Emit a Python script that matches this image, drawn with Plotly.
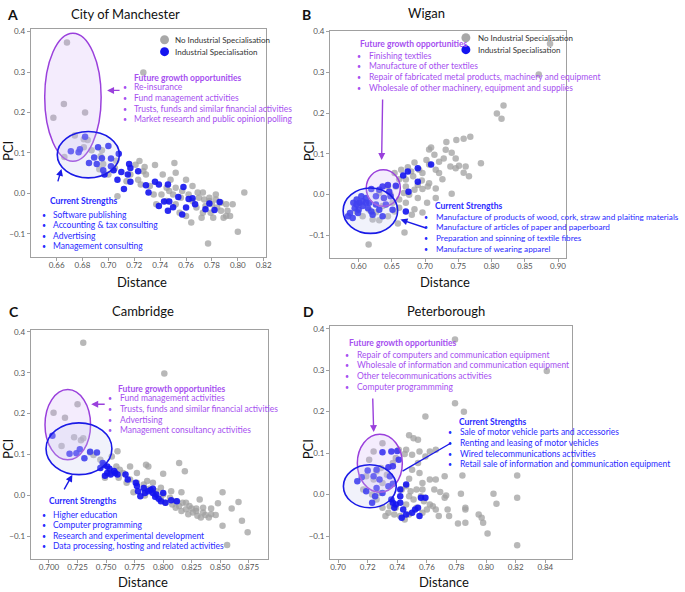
import plotly.graph_objects as go

# ---------------- data (Distance, PCI) ----------------
A_gray = [(0.668,0.373),(0.727,0.299),(0.6656,0.221),(0.682,0.200),(0.6575,0.187),(0.674,0.143),(0.681,0.134),
          (0.684,0.132),(0.681,0.114),(0.687,0.107),(0.695,0.107),(0.694,0.092),(0.666,0.090),(0.696,0.073),
          (0.693,0.060),(0.706,0.081),(0.705,0.063),(0.700,0.047),(0.707,-0.007),(0.721,0.071),(0.724,0.080),
          (0.727,0.055),(0.729,0.047),(0.723,0.034),(0.736,0.070),(0.751,0.075),(0.742,0.047),(0.732,0.018),
          (0.735,-0.003),(0.748,0.034),(0.752,0.014),(0.757,0.006),(0.750,-0.003),(0.760,0.034),(0.762,-0.003),
          (0.765,-0.019),(0.769,0.002),(0.773,0.002),(0.774,-0.015),(0.778,-0.019),(0.780,-0.027),(0.783,-0.015),
          (0.784,-0.035),(0.787,-0.043),(0.792,-0.043),(0.794,-0.056),(0.791,-0.056),(0.805,0.002),(0.800,-0.095),
          (0.777,-0.124),(0.772,-0.060),(0.764,-0.072),(0.755,-0.048),(0.752,-0.027),(0.745,-0.019),(0.741,-0.003),
          (0.737,-0.027),(0.768,-0.035),(0.779,-0.048),(0.783,-0.003),(0.787,-0.023),(0.778,-0.011),(0.770,-0.011),
          (0.745,0.014),(0.725,0.022),(0.717,0.047),(0.714,0.030),(0.791,-0.027),(0.796,-0.027),(0.760,-0.056),
          (0.781,-0.060),(0.756,-0.011),(0.765,0.018),(0.728,0.065),(0.752,0.051),(0.747,0.006),(0.775,-0.031),
          (0.773,-0.048),(0.789,-0.060)]
A_blue = [(0.682,0.140),(0.671,0.104),(0.677,0.102),(0.678,0.109),(0.692,0.114),(0.700,0.117),(0.689,0.089),
          (0.695,0.087),(0.702,0.086),(0.691,0.073),(0.685,0.075),(0.702,0.067),(0.696,0.057),(0.708,0.098),
          (0.716,0.073),(0.710,0.053),(0.715,0.047),(0.707,0.034),(0.712,0.011),(0.717,0.029),(0.729,0.020),
          (0.736,0.029),(0.731,0.002),(0.739,0.022),(0.746,0.022),(0.743,-0.020),(0.747,-0.020),(0.750,-0.034),
          (0.754,-0.009),(0.758,0.016),(0.757,-0.052),(0.760,-0.035),(0.765,-0.012),(0.767,-0.027),(0.775,-0.039),
          (0.778,-0.025),(0.786,-0.021),(0.782,-0.041),(0.739,-0.031),(0.746,-0.043),(0.762,-0.014),(0.717,0.063),
          (0.697,0.047),(0.704,0.057),(0.723,0.055)]

B_gray = [(0.888,0.370),(0.871,0.295),(0.818,0.219),(0.808,0.199),(0.815,0.186),(0.768,0.142),(0.758,0.137),
          (0.747,0.134),(0.732,0.129),(0.709,0.116),(0.706,0.111),(0.714,0.098),(0.702,0.085),(0.731,0.110),
          (0.740,0.103),(0.728,0.089),(0.746,0.089),(0.784,0.077),(0.761,0.069),(0.751,0.071),(0.766,0.045),
          (0.758,0.054),(0.738,0.069),(0.721,0.053),(0.696,0.053),(0.684,0.079),(0.674,0.067),(0.664,0.061),
          (0.682,0.045),(0.695,0.035),(0.706,0.028),(0.726,0.038),(0.704,0.020),(0.696,0.014),(0.684,0.012),
          (0.671,0.020),(0.661,0.038),(0.676,0.000),(0.689,-0.008),(0.703,-0.020),(0.716,-0.008),(0.740,0.002),
          (0.671,-0.020),(0.684,-0.036),(0.696,-0.044),(0.680,-0.049),(0.659,-0.071),(0.669,-0.093),(0.615,-0.122),
          (0.654,-0.041),(0.644,-0.053),(0.631,-0.063),(0.621,-0.061),(0.606,-0.053),(0.597,-0.041),(0.644,0.020),
          (0.631,0.004),(0.638,-0.008),(0.648,0.000),(0.656,0.020),(0.654,0.053),(0.661,-0.012),(0.668,0.004),
          (0.689,0.024),(0.679,0.057),(0.706,0.074),(0.691,0.061),(0.716,0.061),(0.746,0.065),(0.721,0.081),
          (0.636,-0.028),(0.616,-0.037),(0.626,-0.043),(0.601,-0.024),(0.661,-0.032),(0.671,0.037),(0.651,-0.020),
          (0.716,0.015)]
B_blue = [(0.689,0.065),(0.674,0.057),(0.667,0.047),(0.709,0.074),(0.689,0.032),(0.675,0.007),(0.671,-0.041),
          (0.636,0.020),(0.644,0.024),(0.631,0.012),(0.619,0.014),(0.626,-0.004),(0.638,-0.008),(0.648,-0.004),
          (0.651,-0.037),(0.641,-0.024),(0.592,-0.020),(0.597,-0.012),(0.601,-0.020),(0.606,-0.016),(0.611,-0.020),
          (0.594,-0.033),(0.600,-0.037),(0.606,-0.028),(0.614,-0.033),(0.587,-0.045),(0.584,-0.053),(0.591,-0.057),
          (0.599,-0.045),(0.619,-0.041),(0.621,-0.049),(0.631,-0.037),(0.611,-0.008),(0.604,-0.004),(0.636,-0.053),
          (0.626,-0.024),(0.616,-0.020),(0.597,-0.024),(0.656,0.022),(0.646,0.007)]

C_gray = [(0.730,0.373),(0.801,0.298),(0.725,0.223),(0.704,0.202),(0.714,0.190),(0.722,0.142),(0.728,0.135),
          (0.730,0.140),(0.711,0.121),(0.736,0.105),(0.739,0.099),(0.745,0.087),(0.760,0.108),(0.755,0.095),
          (0.759,0.071),(0.753,0.055),(0.749,0.043),(0.761,0.043),(0.785,0.075),(0.787,0.071),(0.800,0.053),
          (0.777,0.055),(0.814,0.079),(0.819,0.059),(0.852,0.008),(0.866,-0.016),(0.860,-0.032),(0.848,-0.019),
          (0.842,-0.032),(0.869,-0.062),(0.874,-0.090),(0.856,-0.121),(0.852,-0.074),(0.835,-0.042),(0.829,-0.032),
          (0.823,-0.026),(0.817,-0.018),(0.811,-0.014),(0.806,-0.006),(0.800,0.002),(0.794,0.010),(0.788,0.016),
          (0.783,0.027),(0.777,0.031),(0.771,0.039),(0.768,0.031),(0.784,0.014),(0.791,0.031),(0.792,0.006),
          (0.798,-0.010),(0.802,-0.018),(0.808,-0.022),(0.814,-0.026),(0.820,-0.034),(0.826,-0.042),(0.830,-0.050),
          (0.833,-0.054),(0.837,-0.048),(0.842,-0.046),(0.829,-0.038),(0.820,-0.018),(0.816,-0.038),(0.811,-0.030),
          (0.822,-0.046),(0.825,-0.032),(0.835,-0.030),(0.840,-0.054),(0.846,-0.048),(0.832,-0.010),(0.816,0.008),
          (0.807,0.010),(0.784,0.000),(0.774,0.008),(0.786,0.035),(0.798,0.019),(0.765,0.055),(0.762,0.063),
          (0.771,0.071)]
C_blue = [(0.703,0.146),(0.724,0.103),(0.718,0.102),(0.727,0.113),(0.731,0.091),(0.736,0.107),(0.742,0.105),
          (0.747,0.079),(0.745,0.067),(0.751,0.071),(0.753,0.065),(0.751,0.055),(0.749,0.048),(0.754,0.051),
          (0.758,0.055),(0.760,0.051),(0.767,0.051),(0.769,0.039),(0.776,0.031),(0.777,0.023),(0.778,0.010),
          (0.783,0.018),(0.784,0.006),(0.787,0.010),(0.789,0.013),(0.791,0.006),(0.794,0.002),(0.791,0.016),
          (0.793,-0.003),(0.800,0.006),(0.802,-0.018),(0.798,-0.014),(0.796,-0.008),(0.807,-0.012),(0.812,-0.014),
          (0.780,-0.002),(0.757,0.060),(0.748,0.075)]

D_gray = [(0.779,0.374),(0.841,0.298),(0.779,0.220),(0.785,0.200),(0.759,0.188),(0.748,0.143),(0.751,0.136),
          (0.754,0.132),(0.766,0.108),(0.746,0.108),(0.745,0.098),(0.750,0.096),(0.755,0.104),(0.759,0.092),
          (0.762,0.104),(0.754,0.076),(0.750,0.060),(0.755,0.052),(0.748,0.038),(0.757,0.028),(0.762,0.036),
          (0.766,0.036),(0.784,0.046),(0.821,0.046),(0.805,0.002),(0.807,-0.022),(0.821,-0.008),(0.783,0.002),
          (0.773,-0.002),(0.772,-0.008),(0.786,-0.032),(0.786,-0.036),(0.781,-0.070),(0.786,-0.068),(0.795,-0.048),
          (0.797,-0.056),(0.798,-0.068),(0.801,-0.094),(0.821,-0.122),(0.775,-0.052),(0.774,-0.036),(0.768,-0.052),
          (0.766,-0.036),(0.762,-0.024),(0.760,-0.036),(0.757,-0.044),(0.753,-0.032),(0.748,-0.048),(0.745,-0.060),
          (0.742,-0.052),(0.738,-0.048),(0.734,-0.044),(0.732,-0.052),(0.730,-0.032),(0.735,-0.028),(0.739,-0.032),
          (0.746,-0.024),(0.751,-0.012),(0.756,-0.004),(0.753,0.012),(0.749,0.008),(0.746,0.020),(0.743,0.012),
          (0.748,-0.004),(0.758,-0.016),(0.764,-0.028),(0.726,-0.012),(0.723,0.000),(0.728,0.004),(0.730,0.028),
          (0.724,0.036),(0.719,0.044),(0.726,0.056),(0.733,0.048),(0.729,0.064),(0.737,0.076),(0.739,0.088),
          (0.741,0.108),(0.724,0.104),(0.730,0.124),(0.721,0.084),(0.717,0.012),(0.772,0.044),(0.765,0.012),
          (0.769,0.006),(0.757,0.012)]
D_blue = [(0.730,0.102),(0.736,0.104),(0.740,0.105),(0.741,0.084),(0.737,0.068),(0.734,0.066),(0.726,0.060),
          (0.720,0.058),(0.716,0.042),(0.713,0.032),(0.724,0.044),(0.728,0.036),(0.735,0.044),(0.737,0.026),
          (0.734,0.020),(0.726,0.016),(0.719,0.008),(0.723,-0.020),(0.725,-0.004),(0.730,0.004),(0.742,0.012),
          (0.746,0.024),(0.742,-0.004),(0.736,-0.012),(0.737,-0.020),(0.739,-0.024),(0.742,-0.020),(0.738,-0.032),
          (0.744,-0.036),(0.746,-0.048),(0.750,-0.044),(0.755,-0.052),(0.743,-0.056),(0.756,-0.008),(0.759,-0.008),
          (0.752,-0.036),(0.754,-0.032)]

titles = ["City of Manchester", "Wigan", "Cambridge", "Peterborough"]
letters = ["A", "B", "C", "D"]
legend_labels = ["No Industrial Specialisation", "Industrial Specialisation"]

A_growth = ["Re-insurance", "Fund management activities",
            "Trusts, funds and similar financial activities", "Market research and public opinion polling"]
A_strength = ["Software publishing", "Accounting & tax consulting", "Advertising", "Management consulting"]
B_growth = ["Finishing textiles", "Manufacture of other textiles",
            "Repair of fabricated metal products, machinery and equipment",
            "Wholesale of other machinery, equipment and supplies"]
B_strength = ["Manufacture of products of wood, cork, straw and plaiting materials",
              "Manufacture of articles of paper and paperboard",
              "Preparation and spinning of textile fibres", "Manufacture of wearing apparel"]
C_growth = ["Fund management activities", "Trusts, funds and similar financial activities",
            "Advertising", "Management consultancy activities"]
C_strength = ["Higher education", "Computer programming", "Research and experimental development",
              "Data processing, hosting and related activities"]
D_growth = ["Repair of computers and communication equipment",
            "Wholesale of information and communication equipment",
            "Other telecommunications activities", "Computer programmming"]
D_strength = ["Sale of motor vehicle parts and accessories", "Renting and leasing of motor vehicles",
              "Wired telecommunications activities", "Retail sale of information and communication equipment"]

# ---------------- styling ----------------
W, H = 685, 592
FONT = "Lato"
GRAY = "rgba(160,160,160,0.75)"
BLUE = "rgba(20,20,240,0.9)"
PURPLE = "#a64ff0"
PURPLE_LINE = "#9a40dc"
BLUE_TXT = "#2a2aff"
BLUE_LINE = "#1a1ae6"

def px(x):
    return x / W

def py(y):
    return 1 - y / H

fig = go.Figure()

panels = [
    dict(xa="x", ya="y", gray=A_gray, blue=A_blue),
    dict(xa="x2", ya="y2", gray=B_gray, blue=B_blue),
    dict(xa="x3", ya="y3", gray=C_gray, blue=C_blue),
    dict(xa="x4", ya="y4", gray=D_gray, blue=D_blue),
]
for p in panels:
    fig.add_trace(go.Scatter(x=[a for a, b in p["gray"]], y=[b for a, b in p["gray"]], mode="markers",
                             marker=dict(size=6.5, color=GRAY), xaxis=p["xa"], yaxis=p["ya"],
                             showlegend=False, hoverinfo="skip"))
    fig.add_trace(go.Scatter(x=[a for a, b in p["blue"]], y=[b for a, b in p["blue"]], mode="markers",
                             marker=dict(size=6.5, color=BLUE), xaxis=p["xa"], yaxis=p["ya"],
                             showlegend=False, hoverinfo="skip"))

axis_common = dict(showline=True, mirror=True, linecolor="#a0a0a0", linewidth=1, ticks="outside",
                   ticklen=3, tickcolor="#a0a0a0", showgrid=False, zeroline=False,
                   tickfont=dict(family=FONT, size=8, color="#555"))
xextra = dict(ticklabelstandoff=-3)
ytick = [-0.1, 0.0, 0.1, 0.2, 0.3, 0.4]

def xd(x0, x1):
    return [px(x0), px(x1)]

def yd(top, bottom):
    return [py(bottom), py(top)]

fig.update_layout(
    width=W, height=H, margin=dict(l=0, r=0, t=0, b=0), plot_bgcolor="white", paper_bgcolor="white",
    font=dict(family=FONT),
    xaxis=dict(domain=xd(31, 268), range=[0.640, 0.8215], tickvals=[0.66 + 0.02 * i for i in range(9)],
               tickformat=".2f", anchor="y", **axis_common, **xextra),
    yaxis=dict(domain=yd(25, 255), range=[-0.158, 0.407], tickvals=ytick, tickformat=".1f", anchor="x",
               **axis_common),
    xaxis2=dict(domain=xd(333, 571), range=[0.557, 0.912], tickvals=[0.60 + 0.05 * i for i in range(7)],
                tickformat=".2f", anchor="y2", **axis_common, **xextra),
    yaxis2=dict(domain=yd(27, 256), range=[-0.156, 0.402], tickvals=ytick, tickformat=".1f", anchor="x2",
                **axis_common),
    xaxis3=dict(domain=xd(31, 270), range=[0.684, 0.8915], tickvals=[0.700 + 0.025 * i for i in range(8)],
                tickformat=".3f", anchor="y3", **axis_common, **xextra),
    yaxis3=dict(domain=yd(328, 559), range=[-0.156, 0.405], tickvals=ytick, tickformat=".1f", anchor="x3",
                **axis_common),
    xaxis4=dict(domain=xd(333, 577), range=[0.6946, 0.858], tickvals=[0.70 + 0.02 * i for i in range(8)],
                tickformat=".2f", anchor="y4", **axis_common, **xextra),
    yaxis4=dict(domain=yd(324, 559), range=[-0.156, 0.407], tickvals=ytick, tickformat=".1f", anchor="x4",
                **axis_common),
)

shapes = []
annotations = []

def ellipse(xref, yref, x0, x1, y0, y1, kind):
    if kind == "p":
        shapes.append(dict(type="circle", xref=xref, yref=yref, x0=x0, x1=x1, y0=y0, y1=y1,
                           line=dict(color=PURPLE_LINE, width=1.5), fillcolor="rgba(205,170,245,0.22)"))
    else:
        shapes.append(dict(type="circle", xref=xref, yref=yref, x0=x0, x1=x1, y0=y0, y1=y1,
                           line=dict(color=BLUE_LINE, width=1.6), fillcolor="rgba(200,205,240,0.25)"))

ellipse("x", "y", 0.6508, 0.6944, 0.0795, 0.396, "p")
ellipse("x", "y", 0.6605, 0.7085, 0.0385, 0.153, "b")
ellipse("x2", "y2", 0.6114, 0.6627, -0.0285, 0.061, "p")
ellipse("x2", "y2", 0.5766, 0.6587, -0.095, 0.0163, "b")
ellipse("x3", "y3", 0.6965, 0.7364, 0.087, 0.259, "p")
ellipse("x3", "y3", 0.6974, 0.7551, 0.0508, 0.1774, "b")
ellipse("x4", "y4", 0.7130, 0.7434, 0.0056, 0.1456, "p")
ellipse("x4", "y4", 0.7036, 0.7393, -0.032, 0.072, "b")

def text(x, y, s, size=8, color="#222", bold=False, xanchor="left", yanchor="middle"):
    annotations.append(dict(xref="paper", yref="paper", x=px(x), y=py(y), text=("<b>%s</b>" % s) if bold else s,
                            showarrow=False, xanchor=xanchor, yanchor=yanchor,
                            font=dict(family=FONT, size=size, color=color)))

def arrow(hx, hy, tx, ty, color, head=2):
    annotations.append(dict(xref="paper", yref="paper", x=px(hx), y=py(hy), ax=tx - hx, ay=ty - hy,
                            axref="pixel", ayref="pixel", text="", showarrow=True, arrowhead=head,
                            arrowsize=1, arrowwidth=1.4, arrowcolor=color))

def block(title, items, color, tx, ty, bx, ix, y0, dy, size=8.5):
    text(tx, ty, title, size=8.5, color=color, bold=True)
    for i, s in enumerate(items):
        text(bx, y0 + i * dy, "•", size=7, color=color)
        text(ix, y0 + i * dy, s, size=size, color=color)

# panel letters and titles
for (lx, ly), L in zip([(13, 11), (309, 11), (14, 310), (311, 310)], letters):
    text(lx, ly, L, size=14, color="#111", bold=True, xanchor="center")
for (tx, ty), T in zip([(127, 10), (430, 9), (144, 309), (450, 309)], titles):
    text(tx, ty, T, size=13, color="#111", xanchor="center")
# axis titles
for (dx, dy) in [(143, 280), (449, 280)]:
    text(dx, dy, "Distance", size=13, color="#111", xanchor="center")
for dx in [144, 448]:
    text(dx, H, "Distance", size=13, color="#111", xanchor="center", yanchor="bottom")
for (cx, cy) in [(8, 148), (312, 148), (8, 448), (311, 448)]:
    annotations.append(dict(xref="paper", yref="paper", x=px(cx), y=py(cy), text="PCI", textangle=-90,
                            showarrow=False, xanchor="center", yanchor="middle",
                            font=dict(family=FONT, size=13, color="#111")))

# legends (A and B)
for (gx, gy, tx0) in [(166, 36, 175), (470, 34, 480)]:
    for k, (col, lab) in enumerate([("#a8a8a8", legend_labels[0]), ("#1414f0", legend_labels[1])]):
        cy = gy + k * 12
        shapes.append(dict(type="circle", xref="paper", yref="paper", x0=px(gx - 4.5), x1=px(gx + 4.5),
                           y0=py(cy + 4.5), y1=py(cy - 4.5), line=dict(width=0), fillcolor=col))
        text(tx0, cy, lab, size=8, color="#333")

# Panel A texts
block("Future growth opportunities", A_growth, PURPLE, 133, 74, 122, 133, 84, 10.7)
arrow(108, 87, 122, 87, PURPLE_LINE)
block("Current Strengths", A_strength, BLUE_TXT, 48, 198, 40, 51, 212, 10.7)
arrow(62, 166, 58, 180, BLUE_LINE)

# Panel B
block("Future growth opportunities", B_growth, PURPLE, 361, 40, 358, 370, 52, 10.7)
arrow(385, 157, 386, 95, PURPLE_LINE)
block("Current Strengths", B_strength, BLUE_TXT, 437, 203, 426, 438, 214, 11, size=8.2)
arrow(404, 217, 431, 226, BLUE_LINE)

# Panel C
block("Future growth opportunities", C_growth, PURPLE, 117, 388, 107, 119, 397, 10.7)
arrow(92, 403, 107, 403, PURPLE_LINE)
block("Current Strengths", C_strength, BLUE_TXT, 47, 500, 40, 51, 514, 10.7)
arrow(73, 474, 64, 490, BLUE_LINE)

# Panel D
block("Future growth opportunities", D_growth, PURPLE, 350, 341, 346, 358, 353, 10.9)
arrow(377, 431, 376, 396, PURPLE_LINE)
block("Current Strengths", D_strength, BLUE_TXT, 461, 421, 450, 462, 431, 10.8)
arrow(455, 442, 405, 471, BLUE_LINE, head=0)

fig.update_layout(shapes=shapes, annotations=annotations)
fig.write_html("out.html", config={"displayModeBar": False},
               post_script="document.body.style.margin='0';document.body.style.overflow='hidden';")
